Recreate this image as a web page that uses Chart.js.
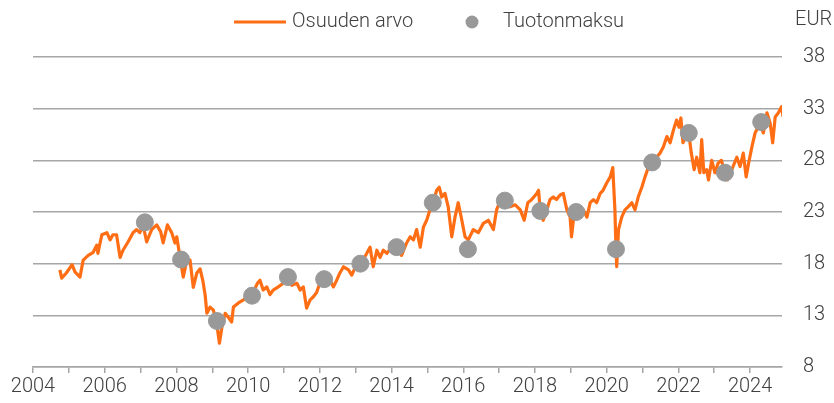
<!DOCTYPE html>
<html>
<head>
<meta charset="utf-8">
<script src="https://cdn.jsdelivr.net/npm/chart.js@4"></script>
<style>
  html, body { margin: 0; padding: 0; background: #fff; }
  #wrap { width: 834px; height: 403px; }
</style>
</head>
<body>
<div id="wrap"><canvas id="fundChart" width="834" height="403"></canvas></div>
<script>
// Osuuden arvo (unit value, EUR)
const lineYears = [
  2004.75, 2004.80, 2004.93, 2005.09, 2005.17, 2005.31, 2005.40, 2005.54, 2005.68, 2005.78,
  2005.81, 2005.92, 2006.06, 2006.15, 2006.23, 2006.33, 2006.43, 2006.51, 2006.65, 2006.79,
  2006.89, 2006.98, 2007.07, 2007.17, 2007.31, 2007.45, 2007.56, 2007.63, 2007.75, 2007.87,
  2007.96, 2008.01, 2008.10, 2008.19, 2008.29, 2008.38, 2008.47, 2008.57, 2008.66, 2008.74,
  2008.80, 2008.85, 2008.94, 2009.03, 2009.12, 2009.20, 2009.27, 2009.36, 2009.45, 2009.54,
  2009.59, 2009.73, 2009.87, 2010.01, 2010.15, 2010.26, 2010.33, 2010.42, 2010.52, 2010.61,
  2010.70, 2010.84, 2010.98, 2011.12, 2011.22, 2011.36, 2011.45, 2011.54, 2011.63, 2011.73,
  2011.82, 2011.91, 2012.00, 2012.14, 2012.28, 2012.38, 2012.47, 2012.56, 2012.66, 2012.80,
  2012.89, 2012.98, 2013.15, 2013.31, 2013.40, 2013.49, 2013.59, 2013.68, 2013.77, 2013.87,
  2014.00, 2014.14, 2014.28, 2014.42, 2014.52, 2014.61, 2014.70, 2014.80, 2014.89, 2014.98,
  2015.07, 2015.15, 2015.26, 2015.33, 2015.40, 2015.49, 2015.58, 2015.68, 2015.77, 2015.86,
  2015.96, 2016.05, 2016.14, 2016.28, 2016.42, 2016.56, 2016.70, 2016.84, 2016.93, 2017.02,
  2017.16, 2017.31, 2017.45, 2017.59, 2017.70, 2017.80, 2017.91, 2018.05, 2018.10, 2018.15,
  2018.23, 2018.33, 2018.42, 2018.51, 2018.60, 2018.70, 2018.79, 2018.89, 2018.98, 2019.02,
  2019.08, 2019.15, 2019.26, 2019.35, 2019.45, 2019.54, 2019.63, 2019.72, 2019.82, 2019.90,
  2020.00, 2020.10, 2020.17, 2020.23, 2020.26, 2020.28, 2020.33, 2020.42, 2020.51, 2020.60,
  2020.70, 2020.79, 2020.88, 2020.98, 2021.07, 2021.16, 2021.27, 2021.39, 2021.49, 2021.58,
  2021.68, 2021.77, 2021.86, 2021.95, 2022.02, 2022.07, 2022.13, 2022.20, 2022.29, 2022.36,
  2022.44, 2022.51, 2022.60, 2022.65, 2022.71, 2022.79, 2022.84, 2022.93, 2023.02, 2023.11,
  2023.20, 2023.30, 2023.37, 2023.49, 2023.63, 2023.72, 2023.81, 2023.89, 2023.96, 2024.05,
  2024.14, 2024.28, 2024.37, 2024.47, 2024.56, 2024.63, 2024.70, 2024.79, 2024.88, 2024.92
];
const lineValues = [
  17.4, 16.6, 17.1, 17.9, 17.2, 16.7, 18.35, 18.8, 19.1, 19.8,
  19.0, 20.8, 21.0, 20.3, 20.8, 20.8, 18.6, 19.3, 20.1, 21.0,
  21.3, 21.0, 21.75, 20.1, 21.3, 21.75, 21.1, 20.0, 21.75, 21.0,
  20.0, 20.6, 18.6, 16.7, 18.35, 18.35, 15.7, 17.1, 17.5, 16.3,
  15.0, 13.2, 13.8, 13.5, 12.3, 10.3, 11.9, 13.2, 12.8, 12.35,
  13.8, 14.2, 14.5, 14.8, 15.3, 16.1, 16.4, 15.45, 15.75, 15.0,
  15.45, 15.75, 16.1, 16.7, 15.9, 16.1, 15.45, 15.75, 13.7, 14.5,
  14.8, 15.2, 16.1, 16.5, 16.4, 15.75, 16.4, 17.1, 17.7, 17.4,
  16.9, 17.6, 18.0, 19.0, 19.6, 17.7, 19.3, 18.6, 19.3, 19.0,
  19.6, 19.6, 18.8, 20.0, 20.6, 20.3, 21.3, 19.6, 21.55, 22.2,
  23.2, 23.9, 25.1, 25.4, 24.45, 24.8, 23.5, 20.6, 22.5, 23.9,
  22.2, 20.6, 20.3, 21.3, 21.0, 21.9, 22.2, 21.3, 23.2, 24.0,
  24.2, 23.5, 23.7, 23.2, 22.2, 23.9, 24.2, 24.8, 25.1, 23.1,
  22.2, 23.2, 24.2, 24.45, 24.2, 24.65, 24.8, 23.2, 22.5, 20.6,
  22.5, 22.9, 22.9, 23.2, 22.5, 23.9, 24.2, 23.9, 24.8, 25.1,
  25.8, 26.4, 27.3, 23.2, 19.4, 17.7, 21.3, 22.5, 23.2, 23.5,
  23.9, 23.2, 24.45, 25.4, 26.4, 27.3, 27.8, 28.3, 28.7, 29.3,
  30.3, 29.7, 30.9, 31.9, 31.2, 32.1, 29.7, 30.3, 30.65, 28.7,
  27.1, 28.3, 26.8, 30.0, 26.8, 27.1, 26.1, 28.0, 26.8, 27.75,
  28.0, 26.8, 26.1, 27.1, 28.3, 27.4, 28.7, 26.4, 27.75, 29.3,
  30.65, 31.6, 30.65, 32.6, 31.6, 29.7, 32.2, 32.6, 33.2, 32.2
];

// Tuotonmaksu (distribution dates)
const payoutYears  = [2007.12, 2008.13, 2009.13, 2010.11, 2011.11, 2012.12, 2013.13, 2014.14, 2015.15,
                      2016.13, 2017.16, 2018.15, 2019.15, 2020.26, 2021.27, 2022.29, 2023.30, 2024.31];
const payoutValues = [22.0, 18.4, 12.45, 14.9, 16.7, 16.5, 18.0, 19.6, 23.9,
                      19.4, 24.1, 23.1, 23.0, 19.4, 27.8, 30.65, 26.8, 31.7];

const seriesNames = ['Osuuden arvo', 'Tuotonmaksu'];
const unitLabel = 'EUR';

const ORANGE = '#ff6e14';
const GREY_DOT = '#999999';
const GRID = '#a6a6a6';
const TEXT = '#404040';
const FONT = 'Roboto, "Noto Sans", sans-serif';

const legendPlugin = {
  id: 'topLegend',
  afterDraw(chart) {
    const ctx = chart.ctx;
    ctx.save();
    ctx.font = `300 20px ${FONT}`;
    ctx.fillStyle = TEXT;
    ctx.textBaseline = 'middle';
    ctx.textAlign = 'left';
    // line item
    ctx.strokeStyle = ORANGE;
    ctx.lineWidth = 3;
    ctx.beginPath();
    ctx.moveTo(234, 22);
    ctx.lineTo(286, 22);
    ctx.stroke();
    ctx.fillText(seriesNames[0], 292, 22);
    // dot item
    ctx.fillStyle = GREY_DOT;
    ctx.beginPath();
    ctx.arc(472, 22, 6.5, 0, Math.PI * 2);
    ctx.fill();
    ctx.fillStyle = TEXT;
    ctx.fillText(seriesNames[1], 503, 22);
    // unit
    ctx.fillText(unitLabel, 795, 20);
    ctx.restore();
  }
};

const lineData = lineYears.map((x, i) => ({ x, y: lineValues[i] }));
const payoutData = payoutYears.map((x, i) => ({ x, y: payoutValues[i] }));

new Chart(document.getElementById('fundChart'), {
  type: 'line',
  data: {
    datasets: [
      {
        label: seriesNames[1],
        type: 'scatter',
        data: payoutData,
        backgroundColor: GREY_DOT,
        borderColor: GREY_DOT,
        pointRadius: 8.5,
        pointHoverRadius: 8.5,
        order: 0
      },
      {
        label: seriesNames[0],
        data: lineData,
        borderColor: ORANGE,
        borderWidth: 3.2,
        borderJoinStyle: 'round',
        pointRadius: 0,
        tension: 0,
        fill: false,
        order: 1
      }
    ]
  },
  options: {
    responsive: false,
    animation: false,
    events: [],
    layout: { padding: { left: 33, top: 57, right: 0, bottom: 0 } },
    plugins: {
      legend: { display: false },
      tooltip: { enabled: false }
    },
    scales: {
      x: {
        type: 'linear',
        min: 2004,
        max: 2024.89,
        afterFit: s => { s.height = 36; s.paddingLeft = 0; s.paddingRight = 0; },
        grid: { drawOnChartArea: false, drawTicks: true, tickLength: 6, color: GRID, lineWidth: 1.5 },
        border: { display: true, color: GRID, width: 1.5 },
        ticks: {
          stepSize: 1,
          includeBounds: false,
          autoSkip: false,
          maxRotation: 0,
          padding: 2,
          color: TEXT,
          font: { family: FONT, size: 20, weight: '300' },
          callback: v => (v % 2 === 0 ? String(v) : '')
        }
      },
      y: {
        position: 'right',
        min: 8,
        max: 38,
        afterFit: s => { s.width = 52; },
        grid: { color: GRID, lineWidth: 1.5, drawTicks: false },
        border: { display: false },
        ticks: {
          stepSize: 5,
          padding: 21,
          color: TEXT,
          font: { family: FONT, size: 20, weight: '300' }
        }
      }
    }
  },
  plugins: [legendPlugin]
});
</script>
</body>
</html>
